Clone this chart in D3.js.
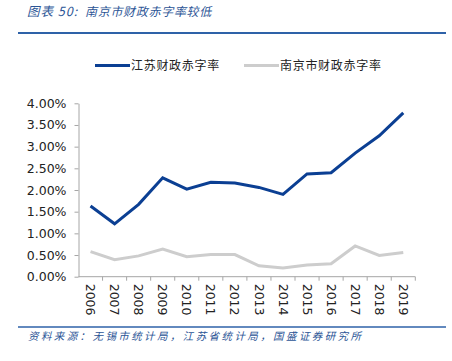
<!DOCTYPE html>
<html>
<head>
<meta charset="utf-8">
<script src="https://cdn.jsdelivr.net/npm/d3@7"></script>
<style>
  body { margin: 0; background: #fff; }
  svg text { font-family: "Noto Sans CJK SC", "DejaVu Sans", sans-serif; }
</style>
</head>
<body>
<div id="container"></div>
<script>
// data
var years = ["2006","2007","2008","2009","2010","2011","2012","2013","2014","2015","2016","2017","2018","2019"];
var jiangsu = [1.63, 1.22, 1.67, 2.28, 2.02, 2.18, 2.16, 2.06, 1.90, 2.37, 2.40, 2.85, 3.25, 3.78];
var nanjing = [0.58, 0.39, 0.48, 0.64, 0.46, 0.51, 0.51, 0.25, 0.20, 0.27, 0.30, 0.71, 0.49, 0.56];
var yTicks = [0, 0.5, 1, 1.5, 2, 2.5, 3, 3.5, 4];
var seriesNames = ["江苏财政赤字率", "南京市财政赤字率"];
var seriesColors = ["#0B3F93", "#CDCDCD"];

var W = 452, H = 361;
var svg = d3.select("#container").append("svg")
  .attr("width", W).attr("height", H);

// title + rules
svg.append("text")
  .attr("x", 27).attr("y", 16)
  .style("font-size", "12.5px").style("font-style", "italic")
  .style("letter-spacing", "1px")
  .style("fill", "#2C5596")
  .text("图表 50:");
svg.append("text")
  .attr("x", 85).attr("y", 16)
  .style("font-size", "12px").style("font-style", "italic")
  .style("letter-spacing", "0.7px")
  .style("fill", "#2C5596")
  .text("南京市财政赤字率较低");
svg.append("line").attr("x1", 18).attr("x2", 446).attr("y1", 33).attr("y2", 33)
  .attr("stroke", "#2E62A8").attr("stroke-width", 2);
svg.append("line").attr("x1", 18).attr("x2", 446).attr("y1", 327).attr("y2", 327)
  .attr("stroke", "#2E62A8").attr("stroke-width", 1.5);
svg.append("text")
  .attr("x", 28).attr("y", 340)
  .style("font-size", "10.5px").style("font-style", "italic")
  .style("letter-spacing", "2.4px")
  .style("fill", "#2C5596")
  .text("资料来源：无锡市统计局，江苏省统计局，国盛证券研究所");

// scales
var x = d3.scaleBand().domain(years).range([78.5, 415.3]);
var y = d3.scaleLinear().domain([0, 4]).range([276.7, 103.3]);

// y axis
var yAxis = svg.append("g")
  .attr("transform", "translate(78.5,0)")
  .call(d3.axisLeft(y).tickValues(yTicks).tickSize(4).tickSizeOuter(0)
    .tickFormat(function(d) { return d.toFixed(2) + "%"; }));
yAxis.select(".domain").attr("stroke", "#A6A6A6");
yAxis.selectAll(".tick line").attr("stroke", "#A6A6A6");
yAxis.selectAll(".tick text")
  .attr("x", -12)
  .style("font-size", "12.5px").style("fill", "#222")
  .style("font-family", "'DejaVu Sans', sans-serif");

// x axis: ticks between categories
var xAxis = svg.append("g").attr("transform", "translate(0,276.7)");
xAxis.append("line").attr("x1", 78.5).attr("x2", 415.3).attr("y1", 0).attr("y2", 0)
  .attr("stroke", "#A6A6A6");
xAxis.selectAll(".xt").data(years).enter().append("line")
  .attr("x1", function(d) { return x(d) + x.bandwidth(); })
  .attr("x2", function(d) { return x(d) + x.bandwidth(); })
  .attr("y1", 0).attr("y2", 4)
  .attr("stroke", "#A6A6A6");
xAxis.selectAll(".xl").data(years).enter().append("text")
  .attr("transform", function(d) {
    return "translate(" + (x(d) + x.bandwidth() / 2) + ",7) rotate(90)";
  })
  .attr("dy", "0.35em")
  .style("font-size", "12.5px").style("fill", "#222")
  .style("font-family", "'DejaVu Sans', sans-serif")
  .text(function(d) { return d; });

// lines
var line = d3.line()
  .x(function(d, i) { return x(years[i]) + x.bandwidth() / 2; })
  .y(function(d) { return y(d); });

svg.append("path").datum(nanjing)
  .attr("d", line).attr("fill", "none")
  .attr("stroke", seriesColors[1]).attr("stroke-width", 3);
svg.append("path").datum(jiangsu)
  .attr("d", line).attr("fill", "none")
  .attr("stroke", seriesColors[0]).attr("stroke-width", 3);

// legend
var legendX = [95, 244];
seriesNames.forEach(function(name, i) {
  svg.append("line")
    .attr("x1", legendX[i]).attr("x2", legendX[i] + 35)
    .attr("y1", 65.5).attr("y2", 65.5)
    .attr("stroke", seriesColors[i]).attr("stroke-width", 3);
  svg.append("text")
    .attr("x", legendX[i] + 36).attr("y", 66)
    .attr("dy", "0.35em")
    .style("font-size", "12px").style("letter-spacing", "0.7px")
    .style("fill", "#222")
    .text(name);
});
</script>
</body>
</html>
